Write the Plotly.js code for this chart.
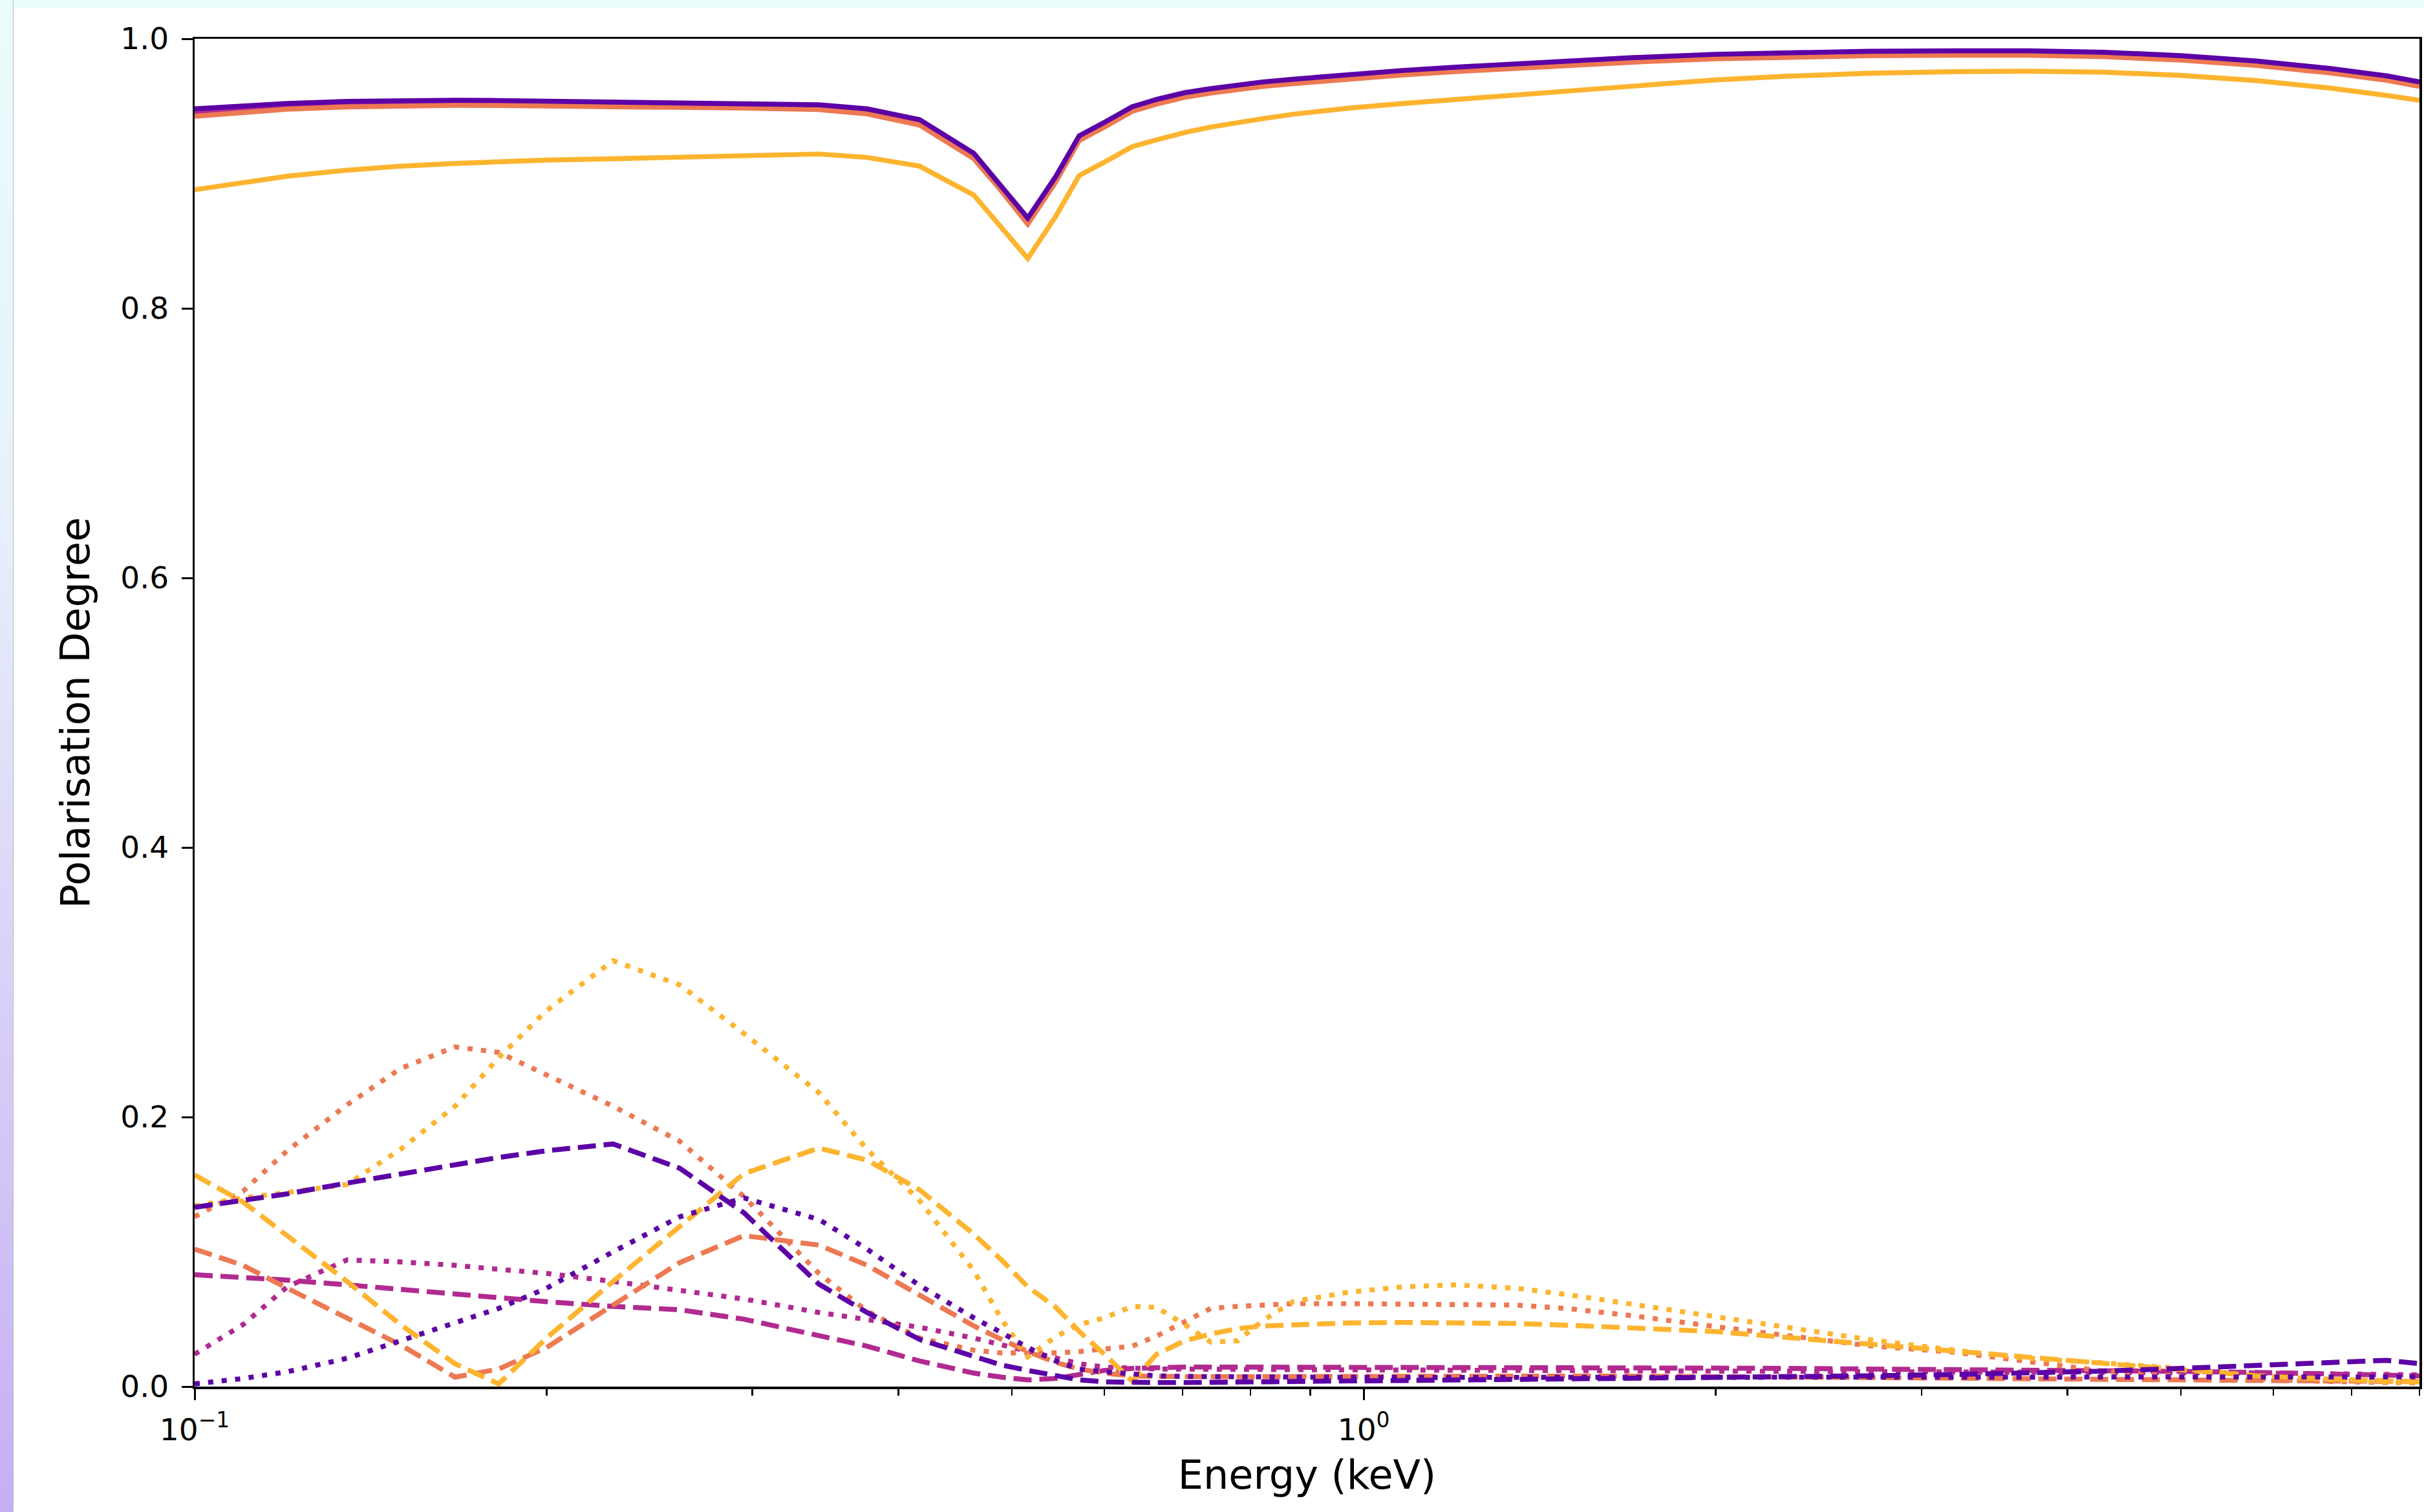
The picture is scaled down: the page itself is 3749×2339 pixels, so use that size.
<!DOCTYPE html>
<html>
<head>
<meta charset="utf-8">
<script src="https://cdn.plot.ly/plotly-3.0.1.min.js"></script>
<style>
  html, body { margin: 0; padding: 0; width: 3749px; height: 2339px; background: #ffffff; overflow: hidden; }
  #topband { position: absolute; left: 0; top: 0; width: 3749px; height: 13px; background: #eafcfc; }
  #leftband { position: absolute; left: 0; top: 0; width: 20px; height: 2339px;
    background: linear-gradient(to bottom, #eafcfc 0%, #e6f0fa 35%, #dcd6f8 60%, #c6aef3 100%);
    border-right: 1px solid #b4bcc4; }
  #chart { position: absolute; left: 21px; top: 13px; width: 3728px; height: 2326px; }
</style>
</head>
<body>
<div id="topband"></div>
<div id="leftband"></div>
<div id="chart"></div>
<script>
// Energy grid (keV)
const energy = [0.1, 0.11, 0.12, 0.135, 0.15, 0.167, 0.182, 0.2, 0.228, 0.26, 0.295, 0.342, 0.376, 0.417, 0.464, 0.49, 0.516, 0.545, 0.571, 0.6, 0.634, 0.665, 0.703, 0.74, 0.78, 0.82, 0.87, 0.97, 1.08, 1.2, 1.35, 1.5, 1.7, 2.0, 2.3, 2.7, 3.2, 3.7, 4.3, 5.0, 5.8, 6.7, 7.5, 8.0];

// Solid curves
const solidPurple = [0.948, 0.950, 0.952, 0.9535, 0.9542, 0.9544, 0.9542, 0.9538, 0.9532, 0.9527, 0.952, 0.951, 0.948, 0.940, 0.915, 0.891, 0.867, 0.8975, 0.928, 0.938, 0.9496, 0.955, 0.960, 0.963, 0.966, 0.968, 0.970, 0.9735, 0.9765, 0.979, 0.9815, 0.9838, 0.986, 0.9885, 0.9897, 0.9907, 0.9911, 0.9911, 0.990, 0.9875, 0.9835, 0.978, 0.9725, 0.968];
const solidMagenta = [0.946, 0.9482, 0.9503, 0.9519, 0.9527, 0.9529, 0.9527, 0.9523, 0.9517, 0.9512, 0.9505, 0.9495, 0.9465, 0.9385, 0.9135, 0.8895, 0.865, 0.896, 0.9265, 0.9365, 0.9481, 0.9535, 0.9585, 0.9615, 0.9645, 0.9665, 0.9685, 0.972, 0.975, 0.9775, 0.98, 0.9823, 0.9845, 0.987, 0.9882, 0.9892, 0.9896, 0.9896, 0.9885, 0.986, 0.982, 0.9765, 0.971, 0.9665];
const solidCoral = [0.9425, 0.9455, 0.9478, 0.9495, 0.9503, 0.9506, 0.9505, 0.9502, 0.9497, 0.9492, 0.9486, 0.9475, 0.9443, 0.936, 0.911, 0.887, 0.8625, 0.8935, 0.9245, 0.9345, 0.9462, 0.9515, 0.9566, 0.9597, 0.9627, 0.9647, 0.9667, 0.9702, 0.9732, 0.9757, 0.9782, 0.9805, 0.9827, 0.9852, 0.9864, 0.9874, 0.9878, 0.9878, 0.9867, 0.9842, 0.9802, 0.9747, 0.9692, 0.9647];
const solidOrange = [0.888, 0.8935, 0.898, 0.9025, 0.9055, 0.9075, 0.909, 0.910, 0.911, 0.912, 0.913, 0.9145, 0.912, 0.9055, 0.884, 0.8605, 0.837, 0.868, 0.8985, 0.9085, 0.920, 0.925, 0.9305, 0.9345, 0.938, 0.9408, 0.944, 0.9485, 0.952, 0.955, 0.9585, 0.9615, 0.965, 0.9695, 0.9722, 0.9744, 0.9756, 0.976, 0.9752, 0.9728, 0.969, 0.9635, 0.958, 0.9544];

// Dashed curves
const dashedPurple = [0.133, 0.138, 0.143, 0.151, 0.158, 0.165, 0.170, 0.175, 0.180, 0.162, 0.129, 0.076, 0.055, 0.035, 0.022, 0.016, 0.012, 0.008, 0.005, 0.0035, 0.003, 0.003, 0.003, 0.0033, 0.0035, 0.0037, 0.004, 0.0042, 0.0045, 0.0048, 0.0052, 0.0056, 0.006, 0.0066, 0.0072, 0.008, 0.009, 0.010, 0.0115, 0.0135, 0.016, 0.0185, 0.0195, 0.017];
const dashedMagenta = [0.083, 0.081, 0.079, 0.0755, 0.072, 0.069, 0.066, 0.063, 0.0595, 0.057, 0.050, 0.038, 0.030, 0.019, 0.010, 0.007, 0.005, 0.006, 0.009, 0.012, 0.0135, 0.0142, 0.0145, 0.0145, 0.0145, 0.0145, 0.0145, 0.0144, 0.0143, 0.0142, 0.0141, 0.014, 0.0139, 0.0137, 0.0135, 0.0132, 0.0128, 0.0124, 0.012, 0.0113, 0.0105, 0.0095, 0.0087, 0.008];
const dashedCoral = [0.102, 0.090, 0.073, 0.051, 0.031, 0.007, 0.013, 0.029, 0.061, 0.092, 0.112, 0.105, 0.090, 0.068, 0.045, 0.035, 0.026, 0.018, 0.013, 0.010, 0.008, 0.0075, 0.0072, 0.0072, 0.0073, 0.0074, 0.0075, 0.0076, 0.0077, 0.0078, 0.0078, 0.0078, 0.0077, 0.0075, 0.0072, 0.0068, 0.0063, 0.0058, 0.0053, 0.0048, 0.0044, 0.004, 0.0038, 0.0037];
const dashedOrange = [0.157, 0.137, 0.112, 0.078, 0.046, 0.017, 0.002, 0.036, 0.078, 0.119, 0.158, 0.177, 0.168, 0.146, 0.113, 0.094, 0.074, 0.059, 0.041, 0.024, 0.004, 0.024, 0.034, 0.039, 0.043, 0.045, 0.046, 0.0472, 0.0476, 0.0476, 0.0468, 0.0455, 0.0437, 0.0408, 0.0365, 0.0315, 0.0265, 0.0215, 0.0168, 0.012, 0.008, 0.0055, 0.0042, 0.0035];

// Dotted curves
const dottedPurple = [0.002, 0.006, 0.011, 0.021, 0.034, 0.047, 0.058, 0.073, 0.100, 0.126, 0.140, 0.124, 0.102, 0.075, 0.051, 0.040, 0.029, 0.019, 0.013, 0.011, 0.009, 0.008, 0.0075, 0.0073, 0.0072, 0.0071, 0.007, 0.0069, 0.0068, 0.0068, 0.0067, 0.0067, 0.0066, 0.0066, 0.0065, 0.0065, 0.0065, 0.0066, 0.0068, 0.007, 0.0072, 0.0074, 0.0074, 0.0072];
const dottedMagenta = [0.024, 0.046, 0.074, 0.094, 0.0925, 0.090, 0.087, 0.084, 0.078, 0.071, 0.065, 0.055, 0.050, 0.044, 0.036, 0.031, 0.026, 0.021, 0.017, 0.0145, 0.0135, 0.013, 0.013, 0.0128, 0.0127, 0.0126, 0.0125, 0.0124, 0.0123, 0.0122, 0.0121, 0.012, 0.0119, 0.0118, 0.0117, 0.0116, 0.0114, 0.0112, 0.011, 0.0106, 0.0101, 0.0095, 0.009, 0.0087];
const dottedCoral = [0.126, 0.145, 0.175, 0.209, 0.236, 0.252, 0.248, 0.231, 0.208, 0.182, 0.141, 0.084, 0.056, 0.036, 0.027, 0.025, 0.025, 0.025, 0.026, 0.028, 0.030, 0.0375, 0.048, 0.058, 0.0595, 0.0605, 0.0615, 0.0615, 0.0612, 0.061, 0.0605, 0.0578, 0.0525, 0.0445, 0.0376, 0.0304, 0.0255, 0.019, 0.0115, 0.0075, 0.0052, 0.0038, 0.003, 0.0027];
const dottedOrange = [0.134, 0.140, 0.144, 0.150, 0.176, 0.208, 0.244, 0.279, 0.316, 0.298, 0.262, 0.218, 0.176, 0.138, 0.086, 0.050, 0.022, 0.037, 0.046, 0.051, 0.0595, 0.0588, 0.046, 0.033, 0.034, 0.049, 0.063, 0.070, 0.074, 0.0755, 0.073, 0.068, 0.061, 0.052, 0.044, 0.035, 0.027, 0.021, 0.0175, 0.0135, 0.008, 0.005, 0.0035, 0.003];

// Axis ticks
const xTickVals = [0.1, 1];
const xTickText = ['10<sup>\u22121</sup>', '10<sup>0</sup>'];
const xMinorVals = [0.2, 0.3, 0.4, 0.5, 0.6, 0.7, 0.8, 0.9, 2, 3, 4, 5, 6, 7, 8];
const yTickVals = [0, 0.2, 0.4, 0.6, 0.8, 1.0];
const yTickText = ['0.0', '0.2', '0.4', '0.6', '0.8', '1.0'];

const colors = { purple: '#5c01a6', magenta: '#b12a90', coral: '#ed7953', orange: '#fdb42f' };
const LW = 7.7;
const DASH = '28px,12px';
const DOT = '8px,13px';

const groups = [
  { c: colors.magenta, s: solidMagenta, d: dashedMagenta, t: dottedMagenta },
  { c: colors.coral, s: solidCoral, d: dashedCoral, t: dottedCoral },
  { c: colors.orange, s: solidOrange, d: dashedOrange, t: dottedOrange },
  { c: colors.purple, s: solidPurple, d: dashedPurple, t: dottedPurple }
];

const traces = [];
groups.forEach(g => {
  traces.push({ x: energy, y: g.s, mode: 'lines', line: { color: g.c, width: LW } });
  traces.push({ x: energy, y: g.d, mode: 'lines', line: { color: g.c, width: LW, dash: DASH } });
  traces.push({ x: energy, y: g.t, mode: 'lines', line: { color: g.c, width: LW, dash: DOT } });
});

const font = 'DejaVu Sans, Liberation Sans, sans-serif';
const axisCommon = {
  showgrid: false, zeroline: false, showline: true, linecolor: '#000000', linewidth: 3.5,
  mirror: true, ticks: 'outside', ticklen: 17, tickwidth: 3, tickcolor: '#000000',
  tickfont: { family: font, size: 47, color: '#000000' }, automargin: false
};

const layout = {
  width: 3728, height: 2326,
  margin: { l: 280, r: 7, t: 47, b: 194 },
  paper_bgcolor: '#ffffff', plot_bgcolor: '#ffffff',
  showlegend: false,
  xaxis: Object.assign({}, axisCommon, {
    type: 'log',
    range: [Math.log10(energy[0]), Math.log10(energy[energy.length - 1])],
    tickmode: 'array', tickvals: xTickVals, ticktext: xTickText,
    ticklabelstandoff: 6,
    minor: { tickmode: 'array', tickvals: xMinorVals, ticks: 'outside', ticklen: 10, tickwidth: 2.5, tickcolor: '#000000', showgrid: false },
    title: { text: 'Energy (keV)', font: { family: font, size: 62, color: '#000000' }, standoff: 22 }
  }),
  yaxis: Object.assign({}, axisCommon, {
    range: [0, 1],
    tickmode: 'array', tickvals: yTickVals, ticktext: yTickText,
    ticklabelstandoff: 10,
    title: { text: 'Polarisation Degree', font: { family: font, size: 62, color: '#000000' }, standoff: 28 }
  })
};

Plotly.newPlot('chart', traces, layout, { staticPlot: true, displayModeBar: false });
</script>
</body>
</html>
